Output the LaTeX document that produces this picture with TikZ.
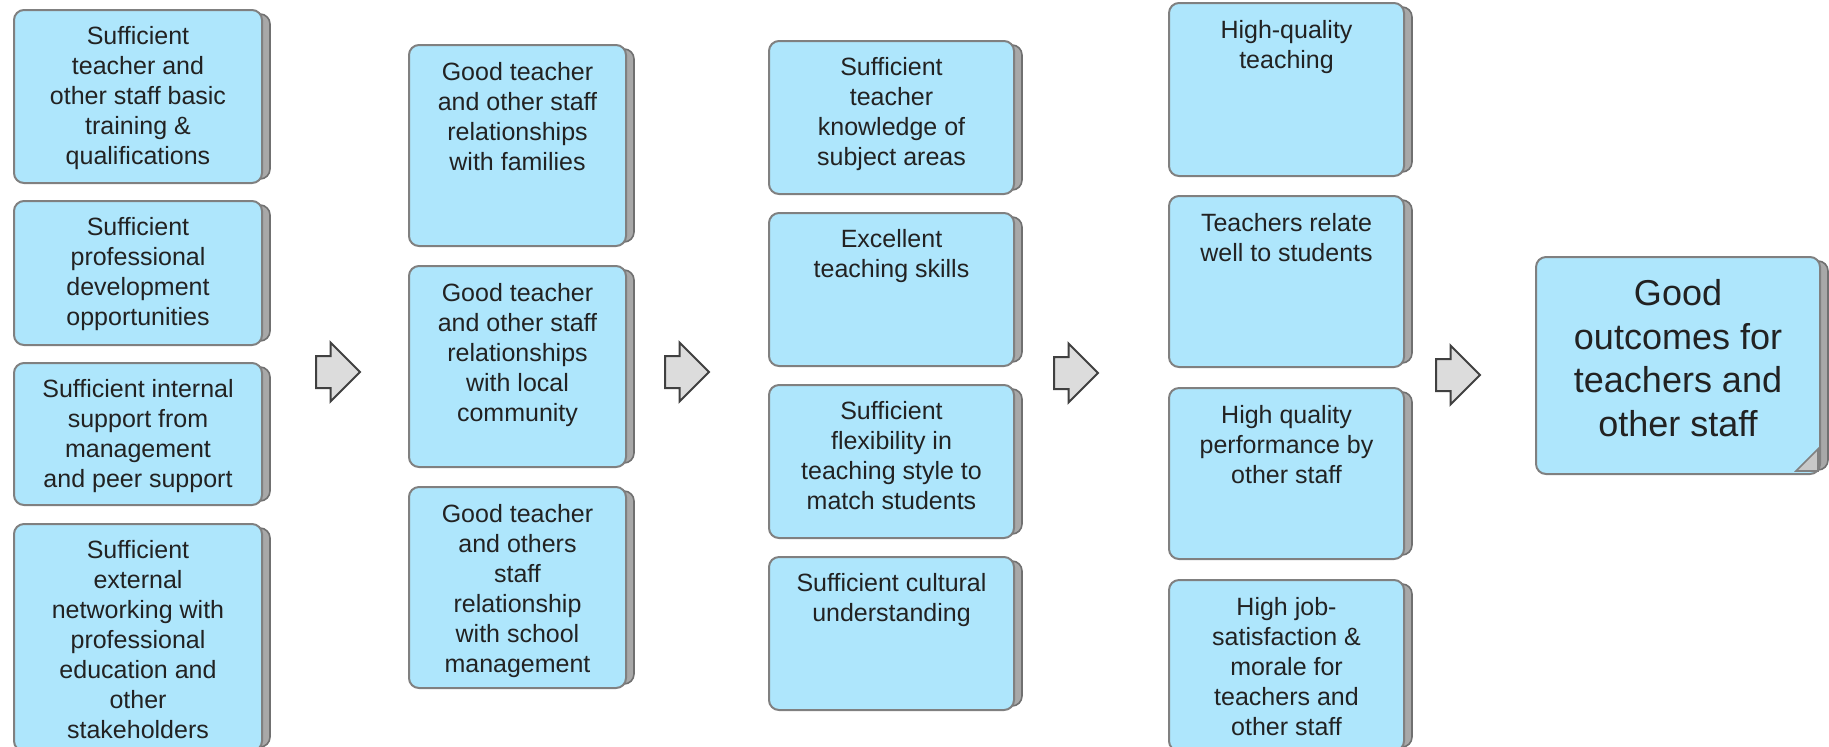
\documentclass[tikz,border=0pt]{standalone}
\usepackage{fontspec}
\setmainfont{Liberation Sans}
\usetikzlibrary{positioning,backgrounds,shapes.arrows}
\definecolor{cardfill}{HTML}{AEE6FC}
\definecolor{cardline}{HTML}{808080}
\definecolor{backfill}{HTML}{A8A8A8}
\definecolor{backline}{HTML}{707070}
\definecolor{arrowfill}{HTML}{DCDCDC}
\definecolor{arrowline}{HTML}{404040}
\definecolor{inktext}{HTML}{222222}
\definecolor{foldfill}{HTML}{C8C8C8}

\tikzset{
  card/.style={draw=cardline, fill=cardfill, line width=1pt, rounded corners=5pt,
    minimum width=#1, anchor=north west, inner sep=0pt},
  sheet/.style={draw=backline, fill=backfill, line width=0.8pt, rounded corners=5pt},
  cardtext/.style={anchor=north, inner sep=0pt, align=center, text=inktext,
    font=\fontsize{12.5}{15}\selectfont},
  bigtext/.style={cardtext, font=\fontsize{18}{21.8}\selectfont},
  flow/.style={single arrow, draw=arrowline, fill=arrowfill, line width=1pt,
    minimum height=22pt, single arrow head extend=6.75pt, anchor=tail,
    single arrow tip angle=90, inner xsep=0pt, inner ysep=7.5pt},
  fold/.style={draw=cardline, fill=foldfill, line width=0.8pt},
}

\begin{document}
\begin{tikzpicture}[x=0.5pt, y=-0.5pt]
  \useasboundingbox (0,0) rectangle (1829,746);

  % Inputs
  \node[card=124pt, minimum height=86.5pt] (a1) at (13,9) {};
  \node[card=124pt, minimum height=72pt, below=8pt of a1] (a2) {};
  \node[card=124pt, minimum height=71pt, below=8pt of a2] (a3) {};
  \node[card=124pt, minimum height=113.5pt, below=8.5pt of a3] (a4) {};
  \node[cardtext] (a1t) at ([yshift=-8.5pt]a1.north) {Sufficient\\teacher and\\other staff basic\\training \&\\qualifications};
  \node[cardtext] (a2t) at ([yshift=-8.5pt]a2.north) {Sufficient\\professional\\development\\opportunities};
  \node[cardtext] (a3t) at ([yshift=-8.5pt]a3.north) {Sufficient internal\\support from\\management\\and peer support};
  \node[cardtext] (a4t) at ([yshift=-8.5pt]a4.north) {Sufficient\\external\\networking with\\professional\\education and\\other\\stakeholders};

  % Relationships
  \node[card=108.5pt, minimum height=100.5pt] (b1) at (408,44) {};
  \node[card=108.5pt, minimum height=100.5pt, below=9pt of b1] (b2) {};
  \node[card=108.5pt, minimum height=100.5pt, below=9pt of b2] (b3) {};
  \node[cardtext] (b1t) at ([yshift=-9pt]b1.north) {Good teacher\\and other staff\\relationships\\with families};
  \node[cardtext] (b2t) at ([yshift=-9pt]b2.north) {Good teacher\\and other staff\\relationships\\with local\\community};
  \node[cardtext] (b3t) at ([yshift=-9pt]b3.north) {Good teacher\\and others\\staff\\relationship\\with school\\management};

  % Teaching
  \node[card=122.5pt, minimum height=76.5pt] (c1) at (768,40) {};
  \node[card=122.5pt, minimum height=76.5pt, below=8.5pt of c1] (c2) {};
  \node[card=122.5pt, minimum height=76.5pt, below=8.5pt of c2] (c3) {};
  \node[card=122.5pt, minimum height=76.5pt, below=8.5pt of c3] (c4) {};
  \node[cardtext] (c1t) at ([yshift=-8.5pt]c1.north) {Sufficient\\teacher\\knowledge of\\subject areas};
  \node[cardtext] (c2t) at ([yshift=-8.5pt]c2.north) {Excellent\\teaching skills};
  \node[cardtext] (c3t) at ([yshift=-8.5pt]c3.north) {Sufficient\\flexibility in\\teaching style to\\match students};
  \node[cardtext] (c4t) at ([yshift=-8.5pt]c4.north) {Sufficient cultural\\understanding};

  % Performance
  \node[card=117.5pt, minimum height=86.5pt] (d1) at (1168,2) {};
  \node[card=117.5pt, minimum height=85.5pt, below=9pt of d1] (d2) {};
  \node[card=117.5pt, minimum height=85.5pt, below=9.5pt of d2] (d3) {};
  \node[card=117.5pt, minimum height=85.5pt, below=9.5pt of d3] (d4) {};
  \node[cardtext] (d1t) at ([yshift=-9pt]d1.north) {High-quality\\teaching};
  \node[cardtext] (d2t) at ([yshift=-9pt]d2.north) {Teachers relate\\well to students};
  \node[cardtext] (d3t) at ([yshift=-9pt]d3.north) {High quality\\performance by\\other staff};
  \node[cardtext] (d4t) at ([yshift=-9pt]d4.north) {High job-\\satisfaction \&\\morale for\\teachers and\\other staff};

  % Outcome
  \node[card=142pt, minimum height=108.5pt] (out) at (1535,256) {};
  \node[bigtext] (outt) at ([yshift=-11.5pt]out.north) {Good\\outcomes for\\teachers and\\other staff};
  \draw[fold] ([shift={(-1.5pt,2pt)}]out.south east) -- ++(-11pt,0pt) -- ++(11pt,11pt) -- cycle;

  % Sheets behind the cards
  \begin{scope}[on background layer]
    \foreach \n in {a1,a2,a3,a4,b1,b2,b3,c1,c2,c3,c4,d1,d2,d3,d4,out}
      \draw[sheet] ([yshift=-2.5pt]\n.north) rectangle ([xshift=3.5pt,yshift=2.5pt]\n.south east);
  \end{scope}

  % Block arrows
  \node[flow] (r1) at (315,372) {};
  \node[flow] (r2) at (664,372) {};
  \node[flow] (r3) at (1053,373) {};
  \node[flow] (r4) at (1435,375) {};
\end{tikzpicture}
\end{document}
